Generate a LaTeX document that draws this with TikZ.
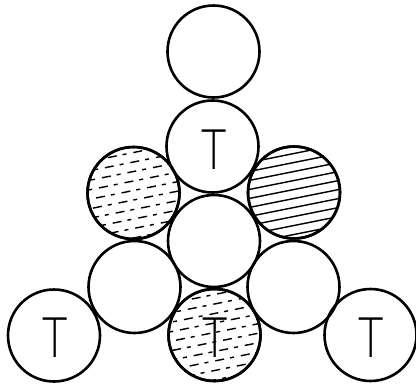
\documentclass[tikz,border=0pt]{standalone}
\usepackage{fontspec}
\newfontfamily\thinT{Lato Light}
\usetikzlibrary{calc}
\begin{document}
\begin{tikzpicture}[x=1pt,y=-1pt,
  ball/.style={circle,draw=black,line width=2.6pt,minimum size=92pt,inner sep=0pt},
  tlabel/.style={font=\fontsize{56}{56}\selectfont\thinT,inner sep=0pt,xscale=0.78,transform shape},
  hatchsolid/.style={line width=1.4pt},
  hatchdash/.style={line width=1.4pt,dash pattern=on 9pt off 6pt on 4pt off 7pt}]
\useasboundingbox (0,0) rectangle (416,386);
% balls
\node[ball] (top) at (213.5,51.5) {};
\node[ball] (tt) at (212.5,146.5) {};
\node[ball] (lh) at (133.5,193) {};
\node[ball] (rh) at (294,192.5) {};
\node[ball] (cc) at (214,241) {};
\node[ball] (lm) at (134.5,287) {};
\node[ball] (rm) at (293.5,287) {};
\node[ball] (bh) at (214.5,335) {};
\node[ball] (bl) at (54,335.5) {};
\node[ball] (br) at (370.5,335) {};
% hatching
\begin{scope}
  \clip (lh.center) circle (45);
  \foreach \k in {-7,...,7}
    \draw[hatchdash,dash phase=\k*3pt] ($(lh.center)+(-60,\k*9.5)$) -- ++(120,-24);
\end{scope}
\begin{scope}
  \clip (rh.center) circle (45);
  \foreach \k in {-7,...,7}
    \draw[hatchsolid] ($(rh.center)+(-60,\k*9)$) -- ++(120,-24);
\end{scope}
\begin{scope}
  \clip (bh.center) circle (45);
  \foreach \k in {-7,...,7}
    \draw[hatchdash,dash phase=\k*4pt] ($(bh.center)+(-60,\k*9.5)$) -- ++(120,-24);
\end{scope}
% redraw outlines over hatching
\foreach \n in {lh,rh,bh} \draw[line width=2.6pt] (\n.center) circle (46);
% labels
\node[tlabel] (t1) at (214,150) {T};
\node[tlabel] (t2) at (215,338) {T};
\node[tlabel] (t3) at (55,338) {T};
\node[tlabel] (t4) at (371,338) {T};
\end{tikzpicture}
\end{document}
